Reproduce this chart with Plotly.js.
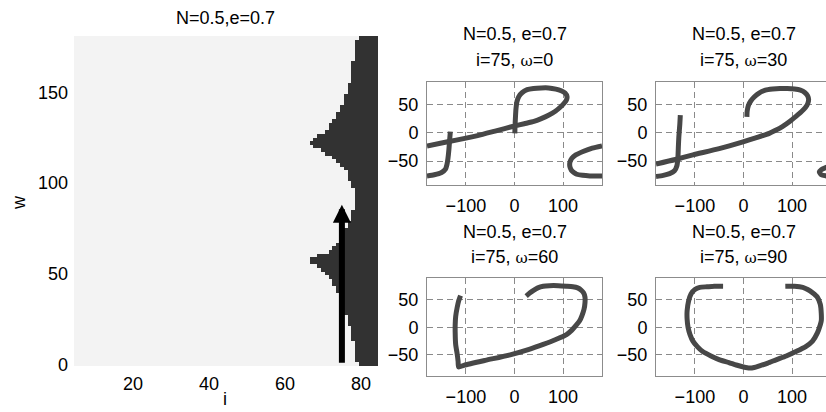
<!DOCTYPE html>
<html>
<head>
<meta charset="utf-8">
<script src="https://cdn.plot.ly/plotly-3.0.1.min.js"></script>
<style>
html,body{margin:0;padding:0;overflow:hidden;background:#fff;}
#plot{width:832px;height:412px;}
</style>
</head>
<body>
<div id="plot"></div>
<script>
// ---------- DATA ----------
// Left map: i columns 5..84, w rows 0..180 (step 2); darkFrom[k] = i where dark region starts for row k
const iFirst = 5, iLast = 84, wStep = 2, wLast = 180;
const darkFrom = [
  79.6,79.4,79.2,79.0,78.9,78.8,78.6,78.4,78.2,78.0,
  77.6,77.2,76.9,76.7,76.4,76.1,75.9,75.6,75.2,74.8,
  74.2,73.8,73.4,72.9,72.3,71.2,70.1,68.5,67.0,66.6,
  69.0,71.5,73.0,74.3,74.8,75.3,75.8,76.3,76.8,77.1,
  77.5,77.8,78.2,78.5,78.8,78.9,78.9,78.7,78.5,78.2,
  77.8,77.4,77.0,76.6,75.8,75.0,74.2,72.8,71.3,69.5,
  67.5,66.6,68.0,69.3,70.6,71.6,72.2,72.9,73.6,74.2,
  74.7,75.2,75.6,76.0,76.4,76.7,77.0,77.3,77.5,77.7,
  77.9,78.1,78.3,78.4,78.6,78.7,78.9,79.0,79.2,79.4,
  79.5
];
const arrowI = 75, arrowFromW = 0, arrowToW = 88;
const mapTicksI = [20, 40, 60, 80];
const mapTicksW = [0, 50, 100, 150];

// Small panels (omega = 0, 30, 60, 90); null = wrap-around break
const xW0 = [0.7,1,2,3,5,9,16,26,39,55,70,85,96,104,108,107,102,94,84,70,55,40,20,0,-40,-76,-120,-150,-180,null,
             180,160,141,126,118,114,114,117,122,128,140,155,170,180,null,
             -180,-165,-150,-142,-139,-137,-135,-134,-132];
const yW0 = [-1,10,28,42,55,64,71,76,78,79,79,77,74,70,64,58,52,45,38,31,25,20,16,12,3,-5,-13,-18,-23.5,null,
             -23,-27,-33,-39,-45,-52,-60,-66,-70,-73,-75,-76,-76,-76,null,
             -76,-74,-70,-64,-56,-46,-30,-19,2];
const xW30 = [7,7.5,10,15,22,32,45,60,75,90,105,117,126,132,134,132,127,119,108,95,80,65,53,25,-1,-50,-104,-140,-180,null,
              181,170,160,156,160,170,181,null,
              -180,-165,-152,-142,-137,-135,-134,-133,-131,-130];
const yW30 = [28,38,48,56,63,70,75,77,78,78,77,75,71,65,58,51,44,37,29,20,11,4,-1,-9,-16,-28,-39,-47,-55,null,
              -57,-61,-65,-69,-74,-76,-77,null,
              -77,-75,-72,-67,-58,-45,-25,-7,15,31];
const xW60 = [-111,-115,-118,-121,-122,-122,-121,-118,-116,-115,-104,-60,-9,30,59,85,107,118,127,134,139,143,145,145,142,137,130,120,107,90,72,59,48,40,32,24];
const yW60 = [58,48,36,20,5,-10,-31,-48,-62,-72,-69,-60,-50,-40,-31,-22,-13,-5,4,12,22,33,45,55,63,68,72,74,75,76,76,75,72,68,63,57];
const xW90 = [-42,-60,-75,-90,-100,-108,-113,-116,-116,-114,-110,-104,-95,-84,-67,-49,-30,-15,0,12,22,33,50,67,88,108,128,142,152,158,160,160,158,152,142,132,122,105,86];
const yW90 = [75,75,74,73,69,61,48,30,15,0,-13,-25,-35,-44,-52,-59,-64,-68.5,-72,-74,-73,-70,-65,-59,-52,-44,-35,-25,-10,5,12,25,42,55,63,69,73,75,75];
const smallTicksX = [-100, 0, 100];
const smallTicksY = [-50, 0, 50];
const titleLine1 = 'N=0.5, e=0.7';
const omegas = [0, 30, 60, 90];
const iShown = 75;

// ---------- BUILD MAP ----------
const iCols = [], wRows = [];
for (let i = iFirst; i <= iLast; i++) iCols.push(i);
for (let w = 0; w <= wLast; w += wStep) wRows.push(w);
const z = wRows.map((w, k) => iCols.map(i => (i > darkFrom[k] - 0.5 ? 1 : 0)));

const FONT = 'Liberation Sans, Arial, Helvetica, sans-serif';
const tickFont = {family: FONT, size: 18, color: '#000'};
const W = 832, H = 412;
const px = v => v / W, py = v => 1 - v / H;

const curveColor = '#474747';
const curveLine = {color: curveColor, width: 5, shape: 'spline', smoothing: 0.6};
const traces = [
  {type: 'heatmap', x: iCols, y: wRows, z: z, zmin: 0, zmax: 1,
   colorscale: [[0, '#f3f3f3'], [1, '#323232']], showscale: false,
   xaxis: 'x', yaxis: 'y', hoverinfo: 'skip'},
  {type: 'scatter', mode: 'lines', x: xW0, y: yW0, xaxis: 'x2', yaxis: 'y2',
   line: curveLine, connectgaps: false},
  {type: 'scatter', mode: 'lines', x: xW30, y: yW30, xaxis: 'x3', yaxis: 'y3',
   line: curveLine, connectgaps: false},
  {type: 'scatter', mode: 'lines', x: xW60, y: yW60, xaxis: 'x4', yaxis: 'y4',
   line: curveLine},
  {type: 'scatter', mode: 'lines', x: xW90, y: yW90, xaxis: 'x5', yaxis: 'y5',
   line: curveLine}
];

function smallX(d, anchor) {
  return {domain: d, anchor: anchor, range: [-180, 180], tickvals: smallTicksX,
    showgrid: true, gridcolor: '#8a8a8a', griddash: '6px,4px', gridwidth: 1,
    zeroline: false, showline: true, mirror: true, linecolor: '#8c8c8c', linewidth: 1,
    ticks: '', tickfont: tickFont, ticklabelstandoff: 4, fixedrange: true};
}
function smallY(d, anchor, r) {
  return {domain: d, anchor: anchor, range: r, tickvals: smallTicksY,
    showgrid: true, gridcolor: '#8a8a8a', griddash: '6px,4px', gridwidth: 1,
    zeroline: false, showline: true, mirror: true, linecolor: '#8c8c8c', linewidth: 1,
    ticks: '', tickfont: tickFont, ticklabelstandoff: 4, fixedrange: true};
}

const colL = [px(427), px(602)], colR = [px(656), px(831)];
const rowT = [py(185), py(81.7)], rowB = [py(376), py(278)];

const layout = {
  width: W, height: H, margin: {l: 0, r: 0, t: 0, b: 0},
  paper_bgcolor: '#fff', plot_bgcolor: '#fff', showlegend: false,
  font: {family: FONT, size: 18, color: '#000'},
  xaxis: {domain: [px(74), px(378)], anchor: 'y', range: [4.5, 84.5], tickvals: mapTicksI,
    showgrid: false, zeroline: false, showline: false, ticks: '', tickfont: tickFont,
    ticklabelstandoff: 5, fixedrange: true},
  yaxis: {domain: [py(366), py(36)], anchor: 'x', range: [-1, 181], tickvals: mapTicksW,
    showgrid: false, zeroline: false, showline: false, ticks: '', tickfont: tickFont,
    ticklabelstandoff: 5, fixedrange: true},
  xaxis2: smallX(colL, 'y2'), yaxis2: smallY(rowT, 'x2', [-92, 90]),
  xaxis3: smallX(colR, 'y3'), yaxis3: smallY(rowT, 'x3', [-92, 90]),
  xaxis4: smallX(colL, 'y4'), yaxis4: smallY(rowB, 'x4', [-88.5, 90]),
  xaxis5: smallX(colR, 'y5'), yaxis5: smallY(rowB, 'x5', [-88.5, 90]),
  annotations: []
};

const ann = layout.annotations;
function txt(text, x, y, extra) {
  ann.push(Object.assign({text: text, xref: 'paper', yref: 'paper', x: px(x), y: py(y),
    xanchor: 'center', yanchor: 'middle', showarrow: false,
    font: {family: FONT, size: 18, color: '#000'}}, extra || {}));
}
// main title & axis labels
txt('N=0.5,e=0.7', 225, 18);
txt('i', 225, 399);
txt('w', 19, 203, {textangle: -90});
// small panel titles
const centers = [[514.5, 34, 60], [743.5, 34, 60], [514.5, 232, 257], [743.5, 232, 257]];
omegas.forEach((om, k) => {
  const c = centers[k];
  txt(titleLine1, c[0], c[1]);
  txt('i=' + iShown + ', <span style="font-family:\'DejaVu Serif\';font-size:15px">ω</span>=' + om, c[0], c[2]);
});
// arrow on the map
ann.push({x: arrowI, y: arrowToW, ax: arrowI, ay: arrowFromW, xref: 'x', yref: 'y',
  axref: 'x', ayref: 'y', text: '', showarrow: true, arrowhead: 2, arrowsize: 0.6,
  arrowwidth: 6, arrowcolor: '#000', standoff: 0});

Plotly.newPlot('plot', traces, layout, {staticPlot: true, displayModeBar: false});
</script>
</body>
</html>
